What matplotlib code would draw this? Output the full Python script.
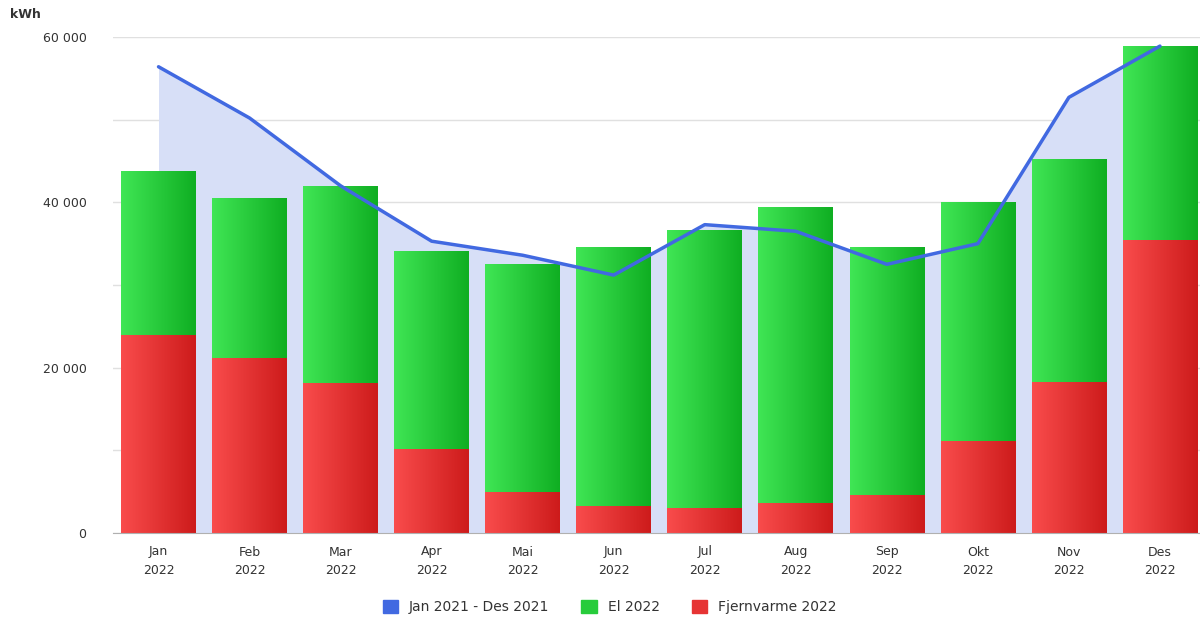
import numpy as np
import matplotlib
matplotlib.use('Agg')
import matplotlib.pyplot as plt
from matplotlib.colors import LinearSegmentedColormap
from matplotlib.ticker import FuncFormatter
from matplotlib.patches import Patch

# Monthly values (kWh)
months = ["Jan", "Feb", "Mar", "Apr", "Mai", "Jun", "Jul", "Aug", "Sep", "Okt", "Nov", "Des"]
year = "2022"
fjernvarme_2022 = [23950, 21200, 18100, 10200, 4950, 3250, 3000, 3600, 4600, 11100, 18300, 35400]
total_2022 = [43800, 40500, 42000, 34100, 32500, 34600, 36600, 39400, 34600, 40000, 45200, 58900]
el_2022 = [t - f for t, f in zip(total_2022, fjernvarme_2022)]
prev_year = [56400, 50200, 42000, 35300, 33600, 31200, 37300, 36500, 32500, 35000, 52700, 58900]

text_col = "#333333"
blue = "#4169e1"
fill_blue = "#d7dff7"
green_grad = LinearSegmentedColormap.from_list("g", ["#40e655", "#0fae22"])
red_grad = LinearSegmentedColormap.from_list("r", ["#f94c4c", "#cd1b1b"])

fig = plt.figure(figsize=(12, 6.19), dpi=100)
ax = fig.add_axes([113 / 1200, 86 / 619, 1087 / 1200, 496 / 619])

x = np.arange(len(months))

# area + line for previous year
ax.fill_between(x, prev_year, 0, color=fill_blue, lw=0, zorder=1)
ax.plot(x, prev_year, color=blue, lw=2.5, zorder=4, solid_capstyle="round")

# stacked bars, drawn invisible then filled with a horizontal gradient
grad = np.linspace(0, 1, 256).reshape(1, -1)
red_bars = ax.bar(x, fjernvarme_2022, width=0.82, color="none", zorder=2)
green_bars = ax.bar(x, el_2022, bottom=fjernvarme_2022, width=0.82, color="none", zorder=2)
for bars, cmap in [(red_bars, red_grad), (green_bars, green_grad)]:
    for b in bars:
        x0, y0 = b.get_x(), b.get_y()
        im = ax.imshow(grad, cmap=cmap, aspect="auto", zorder=2,
                       extent=[x0, x0 + b.get_width(), y0, y0 + b.get_height()])
        im.set_clip_path(b)

ax.set_xlim(-0.5, 11.44)
ax.set_ylim(0, 60000)

ax.set_yticks(np.arange(0, 60001, 10000))
ax.yaxis.set_major_formatter(FuncFormatter(
    lambda v, p: "" if v % 20000 else f"{int(v):,}".replace(",", " ")))
ax.grid(axis="y", color="#e0e0e0", lw=1, zorder=0)
ax.set_axisbelow(True)

ax.set_xticks(x)
ax.set_xticklabels([f"{m}\n{year}" for m in months], fontsize=9, color=text_col,
                   linespacing=1.5)
ax.tick_params(axis="x", length=0, pad=9)
ax.tick_params(axis="y", length=0, pad=19, labelsize=9, labelcolor=text_col)

for s in ["top", "right", "left"]:
    ax.spines[s].set_visible(False)
ax.spines["bottom"].set_color("#b0b0b0")

fig.text(10 / 1200, 1 - 14 / 619, "kWh", fontsize=9, color=text_col,
         fontweight="bold", va="center")

# legend
handles = [Patch(color=blue, label="Jan 2021 - Des 2021"),
           Patch(color="#27cc3b", label="El 2022"),
           Patch(color="#e63434", label="Fjernvarme 2022")]
fig.legend(handles=handles, loc="center", bbox_to_anchor=(0.508, 1 - 607 / 619),
           ncol=3, frameon=False, fontsize=10, handlelength=1.1, handleheight=1.1,
           columnspacing=2.3, handletextpad=0.8, labelcolor=text_col)

plt.savefig("out.png", dpi=100)
